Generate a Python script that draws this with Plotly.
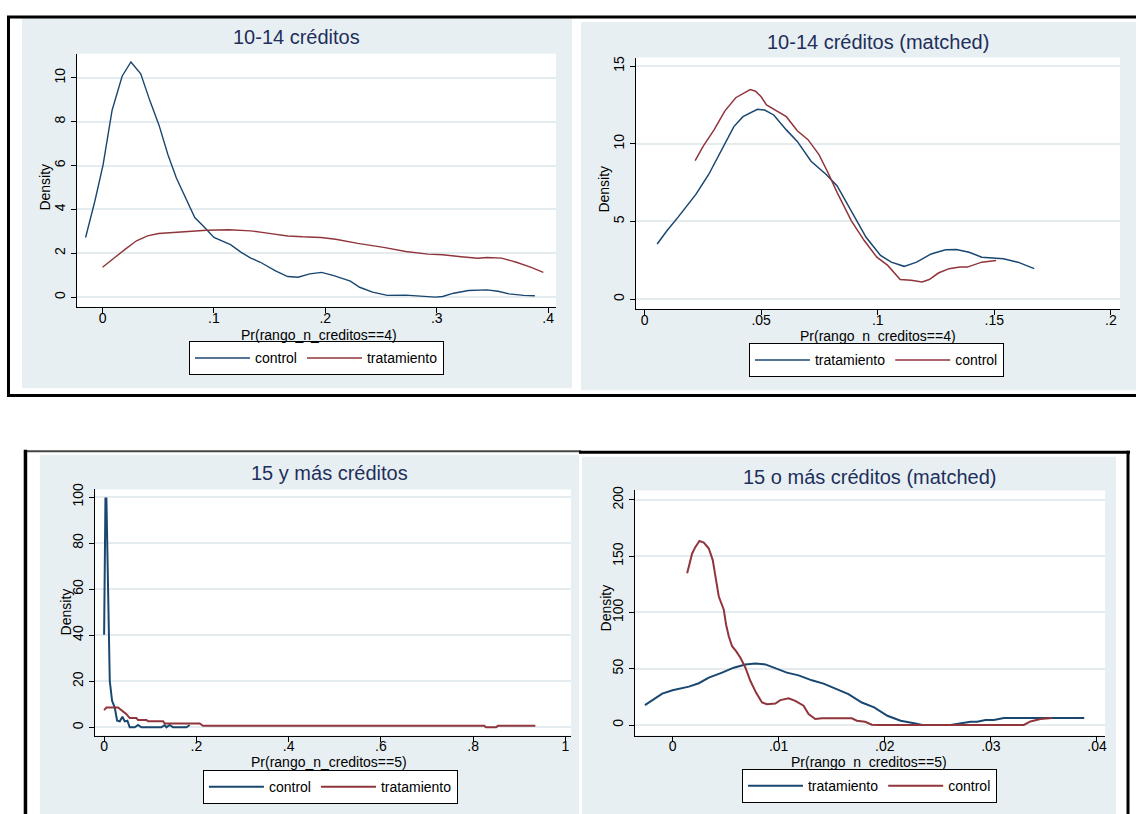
import plotly.graph_objects as go

W, H = 1138, 814

# ---------------- data ----------------
# Panel 1: 10-14 créditos
p1_ctrl_x = [-0.0152, -0.0069, 0.0005, 0.0086, 0.0176, 0.0255, 0.0343, 0.0424, 0.0507, 0.0588, 0.0663,
             0.0746, 0.0828, 0.0917, 0.1000, 0.1149, 0.1245, 0.1331, 0.1417, 0.1553, 0.1662, 0.1755,
             0.1860, 0.1967, 0.2076, 0.2225, 0.2308, 0.2424, 0.2556, 0.2722, 0.2887, 0.2987, 0.3053,
             0.3152, 0.3285, 0.3450, 0.3550, 0.3649, 0.3781, 0.3881]
p1_ctrl_y = [2.72, 4.37, 6.03, 8.52, 10.07, 10.72, 10.18, 8.97, 7.84, 6.48, 5.43,
             4.52, 3.63, 3.17, 2.72, 2.39, 2.04, 1.78, 1.59, 1.20, 0.94, 0.91,
             1.06, 1.13, 0.98, 0.73, 0.45, 0.23, 0.08, 0.09, 0.05, 0.00, 0.03,
             0.18, 0.30, 0.33, 0.27, 0.15, 0.08, 0.06]
p1_trat_x = [0.0, 0.0106, 0.0205, 0.0305, 0.0404, 0.0503, 0.0636, 0.0768, 0.0934, 0.1132, 0.1331,
             0.1464, 0.1662, 0.1795, 0.1960, 0.2093, 0.2291, 0.2523, 0.2722, 0.2920, 0.3053, 0.3219,
             0.3368, 0.3450, 0.3583, 0.3715, 0.3848, 0.3957]
p1_trat_y = [1.36, 1.81, 2.19, 2.57, 2.79, 2.90, 2.95, 3.02, 3.05, 3.07, 3.02,
             2.93, 2.79, 2.75, 2.72, 2.64, 2.45, 2.27, 2.08, 1.96, 1.93, 1.84,
             1.77, 1.81, 1.78, 1.59, 1.36, 1.13]

# Panel 2: 10-14 créditos (matched)
p2_trat_x = [0.0054, 0.0096, 0.0143, 0.0220, 0.0275, 0.0329, 0.0383, 0.0422, 0.0484, 0.0515, 0.0554,
             0.0608, 0.0655, 0.0714, 0.0779, 0.0826, 0.0887, 0.0950, 0.1012, 0.1058, 0.1113, 0.1167,
             0.1229, 0.1291, 0.1337, 0.1392, 0.1446, 0.1539, 0.1601, 0.1671]
p2_trat_y = [3.55, 4.40, 5.26, 6.74, 8.02, 9.51, 11.10, 11.74, 12.21, 12.17, 11.85,
             10.89, 10.15, 8.87, 8.02, 7.28, 5.68, 3.98, 2.81, 2.38, 2.11, 2.38,
             2.91, 3.17, 3.19, 3.02, 2.70, 2.60, 2.38, 1.96]
p2_ctrl_x = [0.0217, 0.0251, 0.0298, 0.0344, 0.0391, 0.0430, 0.0453, 0.0476, 0.0500, 0.0523, 0.0562,
             0.0608, 0.0655, 0.0701, 0.0748, 0.0787, 0.0826, 0.0887, 0.0942, 0.0996, 0.1043, 0.1096,
             0.1143, 0.1190, 0.1221, 0.1260, 0.1306, 0.1353, 0.1384, 0.1446, 0.1508]
p2_ctrl_y = [8.91, 9.83, 10.89, 12.10, 12.96, 13.30, 13.49, 13.38, 13.02, 12.49, 12.15,
             11.74, 10.83, 10.26, 9.30, 8.13, 6.85, 5.04, 3.77, 2.70, 2.17, 1.26,
             1.21, 1.11, 1.26, 1.68, 1.96, 2.06, 2.06, 2.38, 2.49]

# Panel 3: 15 y más créditos
p3_ctrl_x = [0.0, 0.0029, 0.0050, 0.0072, 0.0123, 0.0173, 0.0231, 0.0282, 0.0339, 0.0397, 0.0448,
             0.0505, 0.0556, 0.0664, 0.0736, 0.0809, 0.1242, 0.1314, 0.1350, 0.1422, 0.1495, 0.1783,
             0.1856]
p3_ctrl_y = [40.2, 99.4, 99.4, 77.6, 20.1, 11.5, 8.6, 2.9, 2.6, 4.6, 2.6,
             2.9, 0.0, 0.0, 1.0, 0.0, 0.0, 1.0, 0.0, 1.0, 0.0, 0.0,
             1.0]
p3_trat_x = [0.0, 0.005, 0.0303, 0.0375, 0.0484, 0.0556, 0.0700, 0.0736, 0.0917, 0.0953, 0.1278,
             0.1314, 0.2072, 0.2144, 0.8240, 0.8280, 0.8500, 0.8540, 0.9350]
p3_trat_y = [7.5, 8.6, 8.6, 7.5, 5.7, 4.0, 4.0, 3.2, 3.2, 2.6, 2.6,
             1.7, 1.7, 0.7, 0.7, 0.0, 0.0, 0.7, 0.7]

# Panel 4: 15 o más créditos (matched)
p4_trat_x = [-0.0026, -0.00176, -0.00097, 0.0, 0.00075, 0.00154, 0.00248, 0.00342, 0.00467, 0.00577,
             0.00686, 0.0078, 0.00875, 0.00969, 0.01078, 0.01188, 0.01313, 0.01423, 0.01533, 0.01658,
             0.01784, 0.0190, 0.02025, 0.0215, 0.02276, 0.02354, 0.0262, 0.02715, 0.02809, 0.02871,
             0.0295, 0.03028, 0.03122, 0.03342, 0.0388]
p4_trat_y = [17.6, 22.9, 27.9, 30.9, 32.4, 34.1, 37.1, 42.1, 46.5, 50.9,
             53.8, 54.7, 53.8, 50.3, 46.5, 44.1, 39.7, 36.8, 32.6, 27.4,
             20.0, 15.6, 8.2, 3.8, 1.5, 0.0, 0.0, 1.5, 2.9, 2.9,
             4.4, 4.4, 6.2, 6.2, 6.2]
p4_ctrl_x = [0.00138, 0.00169, 0.00185, 0.00216, 0.00254, 0.00295, 0.00342, 0.00379, 0.00404, 0.00436,
             0.00483, 0.00505, 0.0053, 0.00561, 0.00599, 0.0064, 0.00687, 0.00734, 0.00787, 0.00843,
             0.0089, 0.00969, 0.01016, 0.01094, 0.01157, 0.01235, 0.01282, 0.01345, 0.01408, 0.01502,
             0.01533, 0.01564, 0.0169, 0.01737, 0.01815, 0.01878, 0.0194, 0.0331, 0.03373, 0.03467,
             0.03577]
p4_ctrl_y = [134.7, 145.6, 152.4, 158.2, 163.5, 162.1, 156.8, 146.5, 130.3, 114.1,
             102.4, 89.1, 78.8, 70.0, 65.6, 59.7, 50.9, 39.1, 28.8, 20.0,
             18.5, 19.1, 22.1, 23.8, 21.5, 17.1, 9.7, 5.3, 5.9, 5.9,
             5.3, 5.9, 5.9, 3.8, 2.9, 0.3, 0.0, 0.0, 3.2, 5.3,
             6.2]

titles = ["10-14 créditos", "10-14 créditos (matched)", "15 y más créditos", "15 o más créditos (matched)"]
xtitles = ["Pr(rango_n_creditos==4)", "Pr(rango_n_creditos==4)", "Pr(rango_n_creditos==5)", "Pr(rango_n_creditos==5)"]
ytitle = "Density"

x_tickvals = [[0, 0.1, 0.2, 0.3, 0.4], [0, 0.05, 0.1, 0.15, 0.2], [0, 0.2, 0.4, 0.6, 0.8, 1], [0, 0.01, 0.02, 0.03, 0.04]]
x_ticktext = [["0", ".1", ".2", ".3", ".4"], ["0", ".05", ".1", ".15", ".2"], ["0", ".2", ".4", ".6", ".8", "1"], ["0", ".01", ".02", ".03", ".04"]]
y_tickvals = [[0, 2, 4, 6, 8, 10], [0, 5, 10, 15], [0, 20, 40, 60, 80, 100], [0, 50, 100, 150, 200]]
y_ticktext = [["0", "2", "4", "6", "8", "10"], ["0", "5", "10", "15"], ["0", "20", "40", "60", "80", "100"], ["0", "50", "100", "150", "200"]]

# ---------------- layout geometry (pixels) ----------------
areas = [(77, 557, 48, 303), (637, 1122, 52, 305), (95, 572, 487, 735), (636, 1107, 488, 735)]
xranges = [[-0.02303, 0.40708], [-0.00372, 0.2039], [-0.0201, 1.0123], [-0.003547, 0.04076]]
yranges = [[-0.439, 11.1], [-0.619, 15.54], [-3.58, 103.3], [-9.4, 208.4]]
panels = [(22, 573, 12, 385), (582, 1138, 16, 387), (40, 580, 452, 814), (583, 1118, 454, 814)]
title_pos = [(297, 31), (880, 36), (330, 470), (871, 475)]
xtitle_pos = [(320, 331), (880, 332), (330, 762), (871, 762)]
ytitle_pos = [(45, 182), (605, 184), (66, 610), (607, 606)]
legend_pos = [(317, 355), (878, 357), (331, 787), (871, 786)]

NAVY = "#1A476F"
MAROON = "#90353B"
BG = "#E8EFF2"
GRID = "#E4ECEF"
FONT = "Liberation Sans, Arial, sans-serif"


def px(x):
    return x / W


def py(y):
    return 1 - y / H


fig = go.Figure()

series = [
    [(p1_ctrl_x, p1_ctrl_y, "control", NAVY), (p1_trat_x, p1_trat_y, "tratamiento", MAROON)],
    [(p2_trat_x, p2_trat_y, "tratamiento", NAVY), (p2_ctrl_x, p2_ctrl_y, "control", MAROON)],
    [(p3_ctrl_x, p3_ctrl_y, "control", NAVY), (p3_trat_x, p3_trat_y, "tratamiento", MAROON)],
    [(p4_trat_x, p4_trat_y, "tratamiento", NAVY), (p4_ctrl_x, p4_ctrl_y, "control", MAROON)],
]
line_w = [1.4, 1.5, 2.0, 2.0]

shapes = []
annotations = []
layout_extra = {}

for i in range(4):
    k = "" if i == 0 else str(i + 1)
    xa, ya = "x" + k, "y" + k
    lg = "legend" + k
    for (xs, ys, name, col) in series[i]:
        fig.add_trace(go.Scatter(x=xs, y=ys, mode="lines", name=name,
                                 line=dict(color=col, width=line_w[i]),
                                 xaxis=xa, yaxis=ya, legend=lg, hoverinfo="skip"))
    l, r, t, b = areas[i]
    layout_extra["xaxis" + k] = dict(
        domain=[px(l), px(r)], range=xranges[i], anchor=ya,
        tickmode="array", tickvals=x_tickvals[i], ticktext=x_ticktext[i],
        showline=True, linecolor="black", linewidth=1, mirror=False,
        ticks="outside", ticklen=5, tickcolor="black", tickwidth=1,
        ticklabelstandoff=-7,
        showgrid=False, zeroline=False,
        tickfont=dict(family=FONT, size=14, color="black"), fixedrange=True)
    layout_extra["yaxis" + k] = dict(
        domain=[py(b), py(t)], range=yranges[i], anchor=xa,
        tickmode="array", tickvals=y_tickvals[i], ticktext=y_ticktext[i],
        showline=True, linecolor="black", linewidth=1,
        ticks="outside", ticklen=5, tickcolor="black", tickwidth=1,
        tickangle=-90,
        showgrid=True, gridcolor=GRID, gridwidth=2, zeroline=False,
        tickfont=dict(family=FONT, size=14, color="black"), fixedrange=True)
    lx, ly = legend_pos[i]
    layout_extra[lg] = dict(
        x=px(lx), y=py(ly), xanchor="center", yanchor="middle",
        orientation="h", bgcolor="white", bordercolor="black", borderwidth=1,
        font=dict(family=FONT, size=14, color="black"),
        itemwidth=55, tracegroupgap=0)
    pl, pr, pt, pb = panels[i]
    shapes.append(dict(type="rect", xref="paper", yref="paper", x0=px(pl), x1=px(pr), y0=py(pb), y1=py(pt),
                       fillcolor=BG, line=dict(width=0), layer="below"))
    shapes.append(dict(type="rect", xref=xa + " domain", yref=ya + " domain", x0=0, x1=1, y0=0, y1=1,
                       fillcolor="white", line=dict(width=0), layer="below"))
    tx, ty = title_pos[i]
    annotations.append(dict(text=titles[i], x=px(tx), y=py(ty), xref="paper", yref="paper",
                            showarrow=False, xanchor="center", yanchor="middle",
                            font=dict(family=FONT, size=20, color="#1E2F5C")))
    xx, xy = xtitle_pos[i]
    annotations.append(dict(text=xtitles[i], x=px(xx), y=py(xy), xref="paper", yref="paper",
                            showarrow=False, xanchor="center", yanchor="middle",
                            font=dict(family=FONT, size=14, color="black")))
    yx, yy = ytitle_pos[i]
    annotations.append(dict(text=ytitle, x=px(yx), y=py(yy), xref="paper", yref="paper",
                            showarrow=False, xanchor="center", yanchor="middle", textangle=-90,
                            font=dict(family=FONT, size=14, color="black")))


def hline(x0, x1, y, w, c="black"):
    shapes.append(dict(type="line", xref="paper", yref="paper", x0=px(x0), x1=px(x1), y0=py(y), y1=py(y),
                       line=dict(color=c, width=w), layer="above"))


def vline(x, y0, y1, w, c="black"):
    shapes.append(dict(type="line", xref="paper", yref="paper", x0=px(x), x1=px(x), y0=py(y0), y1=py(y1),
                       line=dict(color=c, width=w), layer="above"))

hline(7, 1138, 11, 3)
vline(8.5, 10, 393, 3)
hline(7, 1138, 392.5, 3)
hline(25, 582, 448.5, 2, "#444444")
hline(580, 1132, 449.5, 3)
vline(25.5, 447, 814, 3.5)
vline(1130, 448, 814, 3)

fig.update_layout(
    width=W, height=H, margin=dict(l=0, r=0, t=0, b=0),
    paper_bgcolor="white", plot_bgcolor="rgba(0,0,0,0)",
    showlegend=True, shapes=shapes, annotations=annotations,
    font=dict(family=FONT),
    **layout_extra)

fig.write_html("out.html", config={"displayModeBar": False},
               post_script="document.body.style.margin='0px';document.body.style.padding='0px';")
